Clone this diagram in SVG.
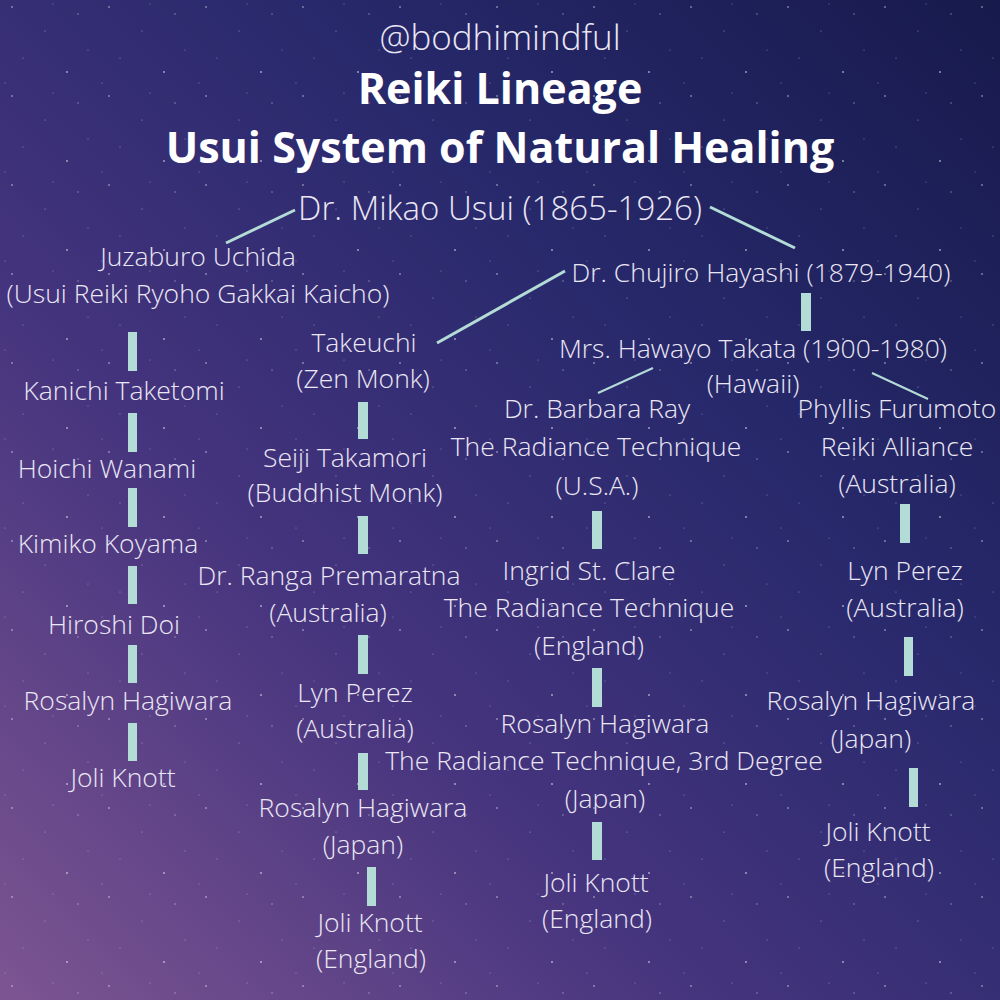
<svg xmlns="http://www.w3.org/2000/svg" width="1000" height="1000" viewBox="0 0 1000 1000">
<defs>
<linearGradient id="bg" x1="1" y1="0" x2="0" y2="1">
<stop offset="0" stop-color="#171a4c"/>
<stop offset="0.35" stop-color="#28296c"/>
<stop offset="0.65" stop-color="#45347e"/>
<stop offset="1" stop-color="#7d5592"/>
</linearGradient>
<pattern id="stars" width="97" height="89" patternUnits="userSpaceOnUse">
<circle cx="12" cy="7" r="0.8" fill="#fff" opacity="0.7"/>
<circle cx="45" cy="31" r="0.6" fill="#cfd8ff" opacity="0.6"/>
<circle cx="78" cy="14" r="0.7" fill="#fff" opacity="0.5"/>
<circle cx="23" cy="58" r="0.6" fill="#bcc8ff" opacity="0.6"/>
<circle cx="67" cy="72" r="0.9" fill="#fff" opacity="0.6"/>
<circle cx="88" cy="50" r="0.5" fill="#fff" opacity="0.5"/>
<circle cx="5" cy="83" r="0.6" fill="#cfd8ff" opacity="0.5"/>
<circle cx="53" cy="4" r="0.5" fill="#fff" opacity="0.5"/>
</pattern>
<style>
.t{font-family:"Open Sans","Liberation Sans",sans-serif;font-weight:300;font-size:26.5px;fill:#ebe7f4;text-anchor:middle}
.big{font-size:33px}
.h{font-family:"Open Sans","Liberation Sans",sans-serif;font-weight:700;font-size:43px;fill:#ffffff;text-anchor:middle}
.at{font-size:35px;fill:#ebe7f4}
.bar{fill:#b4dcd7}
.ln{stroke:#b4dcd7;stroke-width:3;fill:none}
.ln2{stroke:#b4dcd7;stroke-width:2;fill:none}
</style>
</defs>
<rect width="1000" height="1000" fill="url(#bg)"/>
<rect width="1000" height="1000" fill="url(#stars)"/>

<g id="header">
<text class="t at" x="500" y="50">@bodhimindful</text>
<text class="h" x="500" y="104">Reiki Lineage</text>
<text class="h" x="500" y="163">Usui System of Natural Healing</text>
</g>

<g id="connectors">
<line class="ln" x1="295" y1="210" x2="226" y2="243"/>
<line class="ln" x1="710" y1="207" x2="795" y2="248"/>
<line class="ln" x1="437" y1="343" x2="565" y2="271"/>
<line class="ln2" x1="653" y1="368" x2="598" y2="393"/>
<line class="ln2" x1="872" y1="373" x2="928" y2="399"/>
<rect class="bar" x="801" y="293" width="10" height="38"/>
<rect class="bar" x="128" y="332" width="9" height="39"/>
<rect class="bar" x="128" y="413" width="9" height="39"/>
<rect class="bar" x="128" y="488" width="9" height="39"/>
<rect class="bar" x="128" y="566" width="9" height="38"/>
<rect class="bar" x="128" y="645" width="9" height="38"/>
<rect class="bar" x="128" y="723" width="9" height="38"/>
<rect class="bar" x="358" y="402" width="10" height="37"/>
<rect class="bar" x="358" y="516" width="10" height="38"/>
<rect class="bar" x="358" y="635" width="10" height="39"/>
<rect class="bar" x="358" y="753" width="10" height="37"/>
<rect class="bar" x="367" y="867" width="9" height="39"/>
<rect class="bar" x="592" y="511" width="10" height="38"/>
<rect class="bar" x="592" y="668" width="10" height="39"/>
<rect class="bar" x="592" y="822" width="10" height="38"/>
<rect class="bar" x="900" y="504" width="10" height="39"/>
<rect class="bar" x="904" y="637" width="9" height="39"/>
<rect class="bar" x="909" y="768" width="9" height="39"/>
</g>

<g id="usui"><text class="t big" x="500" y="220">Dr. Mikao Usui (1865-1926)</text></g>
<g id="uchida">
<text class="t" x="198" y="266">Juzaburo Uchida</text>
<text class="t" x="198" y="303">(Usui Reiki Ryoho Gakkai Kaicho)</text>
</g>
<g id="hayashi"><text class="t" x="761" y="282">Dr. Chujiro Hayashi (1879-1940)</text></g>
<g id="takeuchi">
<text class="t" x="364" y="352">Takeuchi</text>
<text class="t" x="363" y="388">(Zen Monk)</text>
</g>
<g id="takata">
<text class="t" x="753" y="358">Mrs. Hawayo Takata (1900-1980)</text>
<text class="t" x="753" y="393">(Hawaii)</text>
</g>

<g id="taketomi"><text class="t" x="124" y="400">Kanichi Taketomi</text></g>
<g id="wanami"><text class="t" x="107" y="478">Hoichi Wanami</text></g>
<g id="koyama"><text class="t" x="108" y="553">Kimiko Koyama</text></g>
<g id="doi"><text class="t" x="114" y="634">Hiroshi Doi</text></g>
<g id="hagiwara1"><text class="t" x="128" y="710">Rosalyn Hagiwara</text></g>
<g id="knott1"><text class="t" x="123" y="787">Joli Knott</text></g>

<g id="takamori">
<text class="t" x="345" y="467">Seiji Takamori</text>
<text class="t" x="345" y="502">(Buddhist Monk)</text>
</g>
<g id="premaratna">
<text class="t" x="329" y="585">Dr. Ranga Premaratna</text>
<text class="t" x="328" y="622">(Australia)</text>
</g>
<g id="perez1">
<text class="t" x="355" y="702">Lyn Perez</text>
<text class="t" x="355" y="738">(Australia)</text>
</g>
<g id="hagiwara2">
<text class="t" x="363" y="817">Rosalyn Hagiwara</text>
<text class="t" x="363" y="854">(Japan)</text>
</g>
<g id="knott2">
<text class="t" x="370" y="932">Joli Knott</text>
<text class="t" x="371" y="968">(England)</text>
</g>

<g id="ray">
<text class="t" x="597" y="418">Dr. Barbara Ray</text>
<text class="t" x="596" y="456">The Radiance Technique</text>
<text class="t" x="597" y="495">(U.S.A.)</text>
</g>
<g id="clare">
<text class="t" x="589" y="580">Ingrid St. Clare</text>
<text class="t" x="589" y="617">The Radiance Technique</text>
<text class="t" x="589" y="655">(England)</text>
</g>
<g id="hagiwara3">
<text class="t" x="605" y="733">Rosalyn Hagiwara</text>
<text class="t" x="604" y="770">The Radiance Technique, 3rd Degree</text>
<text class="t" x="605" y="808">(Japan)</text>
</g>
<g id="knott3">
<text class="t" x="596" y="892">Joli Knott</text>
<text class="t" x="597" y="928">(England)</text>
</g>

<g id="furumoto">
<text class="t" x="897" y="418">Phyllis Furumoto</text>
<text class="t" x="897" y="456">Reiki Alliance</text>
<text class="t" x="897" y="493">(Australia)</text>
</g>
<g id="perez2">
<text class="t" x="905" y="580">Lyn Perez</text>
<text class="t" x="905" y="617">(Australia)</text>
</g>
<g id="hagiwara4">
<text class="t" x="871" y="710">Rosalyn Hagiwara</text>
<text class="t" x="871" y="748">(Japan)</text>
</g>
<g id="knott4">
<text class="t" x="878" y="841">Joli Knott</text>
<text class="t" x="879" y="877">(England)</text>
</g>
</svg>
